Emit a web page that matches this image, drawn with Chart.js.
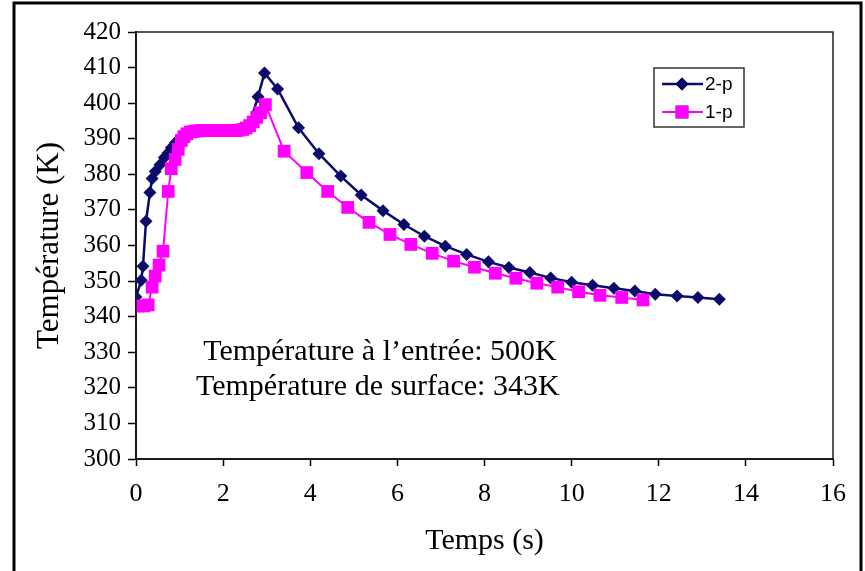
<!DOCTYPE html>
<html>
<head>
<meta charset="utf-8">
<script src="https://cdn.jsdelivr.net/npm/chart.js@4"></script>
<style>
  html, body { margin: 0; padding: 0; background: #fff; }
  #wrap { width: 865px; height: 571px; position: relative; }
</style>
</head>
<body>
<div id="wrap"><canvas id="graficoTemp"></canvas></div>
<script>
// 2-p : temps (s) / température (K)
const temps2p = [0, 0.12, 0.16, 0.23, 0.32, 0.37, 0.44, 0.55, 0.65, 0.74, 0.81, 0.9, 1.0, 1.15, 1.35, 1.6, 1.9, 2.2, 2.45, 2.62, 2.8, 2.95,
  3.25, 3.73, 4.2, 4.7, 5.17, 5.67, 6.15, 6.62, 7.1, 7.59, 8.09, 8.56, 9.04, 9.52, 10.0, 10.48, 10.97, 11.45, 11.92, 12.42, 12.9, 13.39];
const temp2p = [345.5, 350.2, 354.2, 366.8, 374.9, 378.8, 380.8, 382.7, 384.7, 386.1, 387.5, 388.8, 390, 391.2, 391.8, 392, 392.2, 392.3, 392.6, 394.6, 401.8, 408.5,
  404, 393.1, 385.8, 379.5, 374.2, 369.8, 365.9, 362.6, 359.8, 357.5, 355.4, 353.8, 352.4, 350.9, 349.7, 348.8, 348, 347.2, 346.3, 345.8, 345.4, 344.9];

// 1-p
const temps1p = [0.05, 0.18, 0.28, 0.37, 0.44, 0.53, 0.62, 0.74, 0.81, 0.9, 0.97, 1.04, 1.1, 1.17, 1.25, 1.33, 1.41, 1.49, 1.57, 1.65, 1.73, 1.81, 1.89, 1.97, 2.05, 2.13, 2.21, 2.29, 2.37, 2.45, 2.53, 2.61, 2.69, 2.77, 2.86, 2.97,
  3.4, 3.92, 4.4, 4.86, 5.35, 5.83, 6.31, 6.8, 7.29, 7.77, 8.25, 8.72, 9.2, 9.68, 10.16, 10.65, 11.15, 11.64];
const temp1p = [343, 343, 343.3, 348.3, 351.4, 354.5, 358.4, 375.2, 381.6, 384.2, 387, 389.5, 390.6, 391.4, 391.9, 392.1, 392.2, 392.3, 392.3, 392.3, 392.3, 392.3, 392.3, 392.3, 392.3, 392.3, 392.3, 392.3, 392.4, 392.6, 393, 393.7, 394.7, 396, 397.3, 399.6,
  386.5, 380.5, 375.2, 370.7, 366.5, 363.1, 360.3, 357.8, 355.6, 353.9, 352.2, 350.8, 349.4, 348.3, 347, 346, 345.4, 344.7];

const ticksX = [0, 2, 4, 6, 8, 10, 12, 14, 16];
const ticksY = [300, 310, 320, 330, 340, 350, 360, 370, 380, 390, 400, 410, 420];
const notes = ['Température à l\u2019entrée: 500K', 'Température de surface: 343K'];

const pontos = (xs, ys) => xs.map((x, i) => ({ x: x, y: ys[i] }));

const serif = "'Liberation Serif', 'Times New Roman', serif";

// contour du graphique, légende et textes
const extras = {
  id: 'extras',
  afterDraw(chart) {
    const { ctx, chartArea: a, scales: { x, y } } = chart;
    ctx.save();
    // cadre du tracé (haut / droite)
    ctx.strokeStyle = '#222';
    ctx.lineWidth = 1.5;
    ctx.strokeRect(a.left, a.top, a.right - a.left, a.bottom - a.top);

    // textes
    ctx.fillStyle = '#000';
    ctx.font = '30px ' + serif;
    ctx.textAlign = 'center';
    ctx.textBaseline = 'middle';
    ctx.fillText(notes[0], x.getPixelForValue(5.6), y.getPixelForValue(330));
    ctx.fillText(notes[1], x.getPixelForValue(5.55), y.getPixelForValue(320.2));

    // légende
    ctx.strokeStyle = '#333';
    ctx.lineWidth = 1.5;
    ctx.strokeRect(654, 68, 90, 59);
    const rows = [chart.data.datasets[0], chart.data.datasets[1]];
    rows.forEach((ds, i) => {
      const yy = 84 + i * 28;
      ctx.strokeStyle = ds.borderColor;
      ctx.lineWidth = ds.borderWidth;
      ctx.beginPath();
      ctx.moveTo(662, yy);
      ctx.lineTo(703, yy);
      ctx.stroke();
      Chart.helpers.drawPoint(ctx, { pointStyle: ds.pointStyle, radius: ds.legendRadius, borderWidth: 0 }, 682, yy);
      ctx.fillStyle = ds.backgroundColor;
      ctx.fill();
      ctx.fillStyle = '#000';
      ctx.font = '19px "Liberation Sans", Arial, sans-serif';
      ctx.textAlign = 'left';
      ctx.fillText(ds.label, 705, yy + 1);
    });

    // cadre extérieur
    ctx.strokeStyle = '#000';
    ctx.lineWidth = 3;
    ctx.beginPath();
    ctx.moveTo(14, 600);
    ctx.lineTo(14, 3);
    ctx.lineTo(861, 3);
    ctx.lineTo(861, 600);
    ctx.stroke();
    ctx.restore();
  }
};

new Chart(document.getElementById('graficoTemp'), {
  type: 'scatter',
  data: {
    datasets: [{
      label: '2-p',
      data: pontos(temps2p, temp2p),
      showLine: true,
      borderColor: '#0b0b6b',
      backgroundColor: '#0b0b6b',
      borderWidth: 2.5,
      pointStyle: 'rectRot',
      // les points du palier sont masqués par la courbe 1-p
      pointRadius: (c) => (c.raw && c.raw.x > 1.05 && c.raw.x < 2.7 ? 0 : 6.5),
      legendRadius: 6.5,
      pointBorderWidth: 0,
      order: 1
    }, {
      label: '1-p',
      data: pontos(temps1p, temp1p),
      showLine: true,
      borderColor: '#ff00ff',
      backgroundColor: '#ff00ff',
      borderWidth: 2,
      pointStyle: 'rect',
      pointRadius: 9,
      legendRadius: 9,
      pointBorderWidth: 0,
      order: 0
    }]
  },
  options: {
    responsive: true,
    maintainAspectRatio: false,
    animation: false,
    layout: { padding: { top: 32, right: 32, left: 0, bottom: 0 } },
    plugins: {
      legend: { display: false },
      tooltip: { enabled: false }
    },
    scales: {
      x: {
        type: 'linear',
        min: 0,
        max: 16,
        afterFit: (s) => { s.height = 112; },
        afterBuildTicks: (s) => { s.ticks = ticksX.map(v => ({ value: v })); },
        ticks: { color: '#000', padding: 13, font: { family: serif, size: 26 }, maxRotation: 0 },
        grid: { drawOnChartArea: false, tickLength: 7, color: '#000', tickWidth: 1.5 },
        border: { color: '#000', width: 2 },
        title: { display: true, text: 'Temps (s)', color: '#000', font: { family: serif, size: 30 }, padding: { top: 0, bottom: 12 } }
      },
      y: {
        type: 'linear',
        min: 300,
        max: 420,
        afterFit: (s) => { s.width = 136; },
        afterBuildTicks: (s) => { s.ticks = ticksY.map(v => ({ value: v })); },
        ticks: { color: '#000', padding: 7, font: { family: serif, size: 25 } },
        grid: { drawOnChartArea: false, tickLength: 8, color: '#000', tickWidth: 1.5 },
        border: { color: '#000', width: 2 },
        title: { display: true, text: 'Température (K)', color: '#000', font: { family: serif, size: 31 }, padding: { top: 31, bottom: 0 } }
      }
    }
  },
  plugins: [extras]
});
</script>
</body>
</html>
